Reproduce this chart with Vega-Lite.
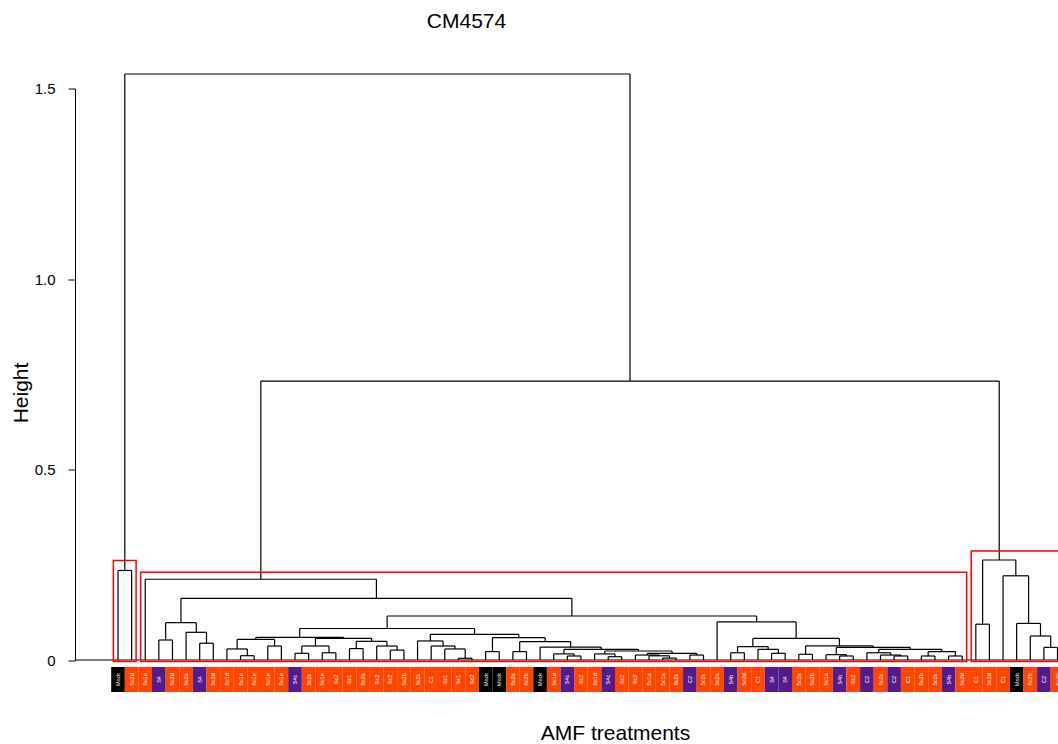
{
  "$schema": "https://vega.github.io/schema/vega-lite/v6.json",
  "width": 983,
  "height": 571.5,
  "autosize": {"type": "none"},
  "padding": {"left": 75, "top": 88.5, "right": 0, "bottom": 84},
  "background": "white",
  "config": {"view": {"stroke": null}},
  "title": {"text": "CM4574", "fontSize": 21, "font": "Liberation Sans", "fontWeight": "normal", "color": "black", "anchor": "middle", "frame": "group", "dx": -100, "offset": 24, "baseline": "alphabetic"},
  "datasets": {
    "merges": [
      {"l": 0, "r": 1, "hl": 0, "hr": 0, "h": 0.235},
      {"l": 3, "r": 4, "hl": 0, "hr": 0, "h": 0.0525},
      {"l": 6, "r": 7, "hl": 0, "hr": 0, "h": 0.044},
      {"l": 5, "r": 6.5, "hl": 0, "hr": 0.044, "h": 0.0727},
      {"l": 3.5, "r": 5.75, "hl": 0.0525, "hr": 0.0727, "h": 0.098},
      {"l": 9, "r": 10, "hl": 0, "hr": 0, "h": 0.0113},
      {"l": 8, "r": 9.5, "hl": 0, "hr": 0.0113, "h": 0.029},
      {"l": 11, "r": 12, "hl": 0, "hr": 0, "h": 0.0367},
      {"l": 8.75, "r": 11.5, "hl": 0.029, "hr": 0.0367, "h": 0.054},
      {"l": 13, "r": 14, "hl": 0, "hr": 0, "h": 0.0175},
      {"l": 15, "r": 16, "hl": 0, "hr": 0, "h": 0.019},
      {"l": 13.5, "r": 15.5, "hl": 0.0175, "hr": 0.019, "h": 0.0367},
      {"l": 17, "r": 18, "hl": 0, "hr": 0, "h": 0.03},
      {"l": 20, "r": 21, "hl": 0, "hr": 0, "h": 0.026},
      {"l": 19, "r": 20.5, "hl": 0, "hr": 0.026, "h": 0.0367},
      {"l": 17.5, "r": 19.75, "hl": 0.03, "hr": 0.0367, "h": 0.049},
      {"l": 14.5, "r": 18.625, "hl": 0.0367, "hr": 0.049, "h": 0.057},
      {"l": 10.125, "r": 16.5625, "hl": 0.054, "hr": 0.057, "h": 0.0596},
      {"l": 25, "r": 26, "hl": 0, "hr": 0, "h": 0.0045},
      {"l": 24, "r": 25.5, "hl": 0, "hr": 0.0045, "h": 0.029},
      {"l": 23, "r": 24.75, "hl": 0, "hr": 0.029, "h": 0.0367},
      {"l": 22, "r": 23.875, "hl": 0, "hr": 0.0367, "h": 0.05},
      {"l": 27, "r": 28, "hl": 0, "hr": 0, "h": 0.022},
      {"l": 29, "r": 30, "hl": 0, "hr": 0, "h": 0.022},
      {"l": 33, "r": 34, "hl": 0, "hr": 0, "h": 0.0105},
      {"l": 32, "r": 33.5, "hl": 0, "hr": 0.0105, "h": 0.016},
      {"l": 36, "r": 37, "hl": 0, "hr": 0, "h": 0.0087},
      {"l": 35, "r": 36.5, "hl": 0, "hr": 0.0087, "h": 0.016},
      {"l": 40, "r": 41, "hl": 0, "hr": 0, "h": 0.005},
      {"l": 39, "r": 40.5, "hl": 0, "hr": 0.005, "h": 0.011},
      {"l": 38, "r": 39.75, "hl": 0, "hr": 0.011, "h": 0.013},
      {"l": 42, "r": 43, "hl": 0, "hr": 0, "h": 0.013},
      {"l": 38.875, "r": 42.5, "hl": 0.013, "hr": 0.013, "h": 0.0175},
      {"l": 35.75, "r": 40.6875, "hl": 0.016, "hr": 0.0175, "h": 0.0236},
      {"l": 32.75, "r": 38.2188, "hl": 0.016, "hr": 0.0236, "h": 0.028},
      {"l": 31, "r": 35.4844, "hl": 0, "hr": 0.028, "h": 0.034},
      {"l": 29.5, "r": 33.2422, "hl": 0.022, "hr": 0.034, "h": 0.048},
      {"l": 27.5, "r": 31.3711, "hl": 0.022, "hr": 0.048, "h": 0.0585},
      {"l": 22.9375, "r": 29.4355, "hl": 0.05, "hr": 0.0585, "h": 0.0675},
      {"l": 13.3438, "r": 26.1865, "hl": 0.0596, "hr": 0.0675, "h": 0.0827},
      {"l": 45, "r": 46, "hl": 0, "hr": 0, "h": 0.019},
      {"l": 48, "r": 49, "hl": 0, "hr": 0, "h": 0.0175},
      {"l": 47, "r": 48.5, "hl": 0, "hr": 0.0175, "h": 0.028},
      {"l": 45.5, "r": 47.75, "hl": 0.019, "hr": 0.028, "h": 0.035},
      {"l": 50, "r": 51, "hl": 0, "hr": 0, "h": 0.015},
      {"l": 53, "r": 54, "hl": 0, "hr": 0, "h": 0.0105},
      {"l": 52, "r": 53.5, "hl": 0, "hr": 0.0105, "h": 0.014},
      {"l": 57, "r": 58, "hl": 0, "hr": 0, "h": 0.0105},
      {"l": 56, "r": 57.5, "hl": 0, "hr": 0.0105, "h": 0.013},
      {"l": 55, "r": 56.75, "hl": 0, "hr": 0.013, "h": 0.019},
      {"l": 59, "r": 60, "hl": 0, "hr": 0, "h": 0.0105},
      {"l": 61, "r": 62, "hl": 0, "hr": 0, "h": 0.0105},
      {"l": 59.5, "r": 61.5, "hl": 0.0105, "hr": 0.0105, "h": 0.022},
      {"l": 55.875, "r": 60.5, "hl": 0.019, "hr": 0.022, "h": 0.028},
      {"l": 52.75, "r": 58.1875, "hl": 0.014, "hr": 0.028, "h": 0.033},
      {"l": 50.5, "r": 55.4688, "hl": 0.015, "hr": 0.033, "h": 0.037},
      {"l": 46.625, "r": 52.9844, "hl": 0.035, "hr": 0.037, "h": 0.0565},
      {"l": 44, "r": 49.8047, "hl": 0, "hr": 0.0565, "h": 0.1},
      {"l": 19.7651, "r": 46.9023, "hl": 0.0827, "hr": 0.1, "h": 0.1155},
      {"l": 4.625, "r": 33.3337, "hl": 0.098, "hr": 0.1155, "h": 0.162},
      {"l": 2, "r": 18.9794, "hl": 0, "hr": 0.162, "h": 0.212},
      {"l": 63, "r": 64, "hl": 0, "hr": 0, "h": 0.094},
      {"l": 68, "r": 69, "hl": 0, "hr": 0, "h": 0.033},
      {"l": 67, "r": 68.5, "hl": 0, "hr": 0.033, "h": 0.063},
      {"l": 66, "r": 67.75, "hl": 0, "hr": 0.063, "h": 0.096},
      {"l": 65, "r": 66.875, "hl": 0, "hr": 0.096, "h": 0.221},
      {"l": 63.5, "r": 65.9375, "hl": 0.094, "hr": 0.221, "h": 0.2625},
      {"l": 10.4897, "r": 64.7188, "hl": 0.212, "hr": 0.2625, "h": 0.732},
      {"l": 0.5, "r": 37.6042, "hl": 0.235, "hr": 0.732, "h": 1.538}
    ],
    "boxes": [
      {"x0": -0.34, "x1": 1.33, "top": 0.261},
      {"x0": 1.66, "x1": 62.33, "top": 0.23},
      {"x0": 62.66, "x1": 69.33, "top": 0.286}
    ],
    "leaves": [
      {"i": 0, "label": "Mock"}, {"i": 1, "label": "Sc2d"}, {"i": 2, "label": "Sc1e"}, {"i": 3, "label": "S4"},
      {"i": 4, "label": "Sc2d"}, {"i": 5, "label": "Sc2a"}, {"i": 6, "label": "S4"}, {"i": 7, "label": "Sc2d"},
      {"i": 8, "label": "Sc1d"}, {"i": 9, "label": "Sc1e"}, {"i": 10, "label": "Sc1e"}, {"i": 11, "label": "Sc1e"},
      {"i": 12, "label": "Sc1e"}, {"i": 13, "label": "S4c"}, {"i": 14, "label": "Sc2c"}, {"i": 15, "label": "Sc1e"},
      {"i": 16, "label": "Sc2"}, {"i": 17, "label": "Sc1"}, {"i": 18, "label": "Sc2a"}, {"i": 19, "label": "Sc2"},
      {"i": 20, "label": "Sc2"}, {"i": 21, "label": "Sc2b"}, {"i": 22, "label": "Sc2c"}, {"i": 23, "label": "C1"},
      {"i": 24, "label": "Sc1"}, {"i": 25, "label": "Sc1"}, {"i": 26, "label": "Sc2"}, {"i": 27, "label": "Mock"},
      {"i": 28, "label": "Mock"}, {"i": 29, "label": "Sc2a"}, {"i": 30, "label": "Sc2b"}, {"i": 31, "label": "Mock"},
      {"i": 32, "label": "Sc1d"}, {"i": 33, "label": "S4c"}, {"i": 34, "label": "Sc2"}, {"i": 35, "label": "Sc1d"},
      {"i": 36, "label": "S4c"}, {"i": 37, "label": "Sc2"}, {"i": 38, "label": "Sc2"}, {"i": 39, "label": "Sc1a"},
      {"i": 40, "label": "Sc1a"}, {"i": 41, "label": "Sc2c"}, {"i": 42, "label": "C2"}, {"i": 43, "label": "Sc2c"},
      {"i": 44, "label": "Sc2a"}, {"i": 45, "label": "S4b"}, {"i": 46, "label": "Sc2d"}, {"i": 47, "label": "C1"},
      {"i": 48, "label": "S4"}, {"i": 49, "label": "S4"}, {"i": 50, "label": "Sc2a"}, {"i": 51, "label": "Sc2b"},
      {"i": 52, "label": "Sc1a"}, {"i": 53, "label": "S4b"}, {"i": 54, "label": "Sc2"}, {"i": 55, "label": "C2"},
      {"i": 56, "label": "Sc2c"}, {"i": 57, "label": "C2"}, {"i": 58, "label": "C1"}, {"i": 59, "label": "Sc2b"},
      {"i": 60, "label": "Sc2c"}, {"i": 61, "label": "S4b"}, {"i": 62, "label": "Sc2d"}, {"i": 63, "label": "C1"},
      {"i": 64, "label": "Sc2d"}, {"i": 65, "label": "C1"}, {"i": 66, "label": "Mock"}, {"i": 67, "label": "Sc2b"},
      {"i": 68, "label": "C2"}, {"i": 69, "label": "Sc2d"}
    ]
  },
  "layer": [
    {
      "data": {"name": "merges"},
      "mark": {"type": "rule", "color": "black", "strokeWidth": 1.2},
      "encoding": {
        "x": {"field": "l", "type": "quantitative", "title": "AMF treatments",
          "scale": {"domain": [-3.158, 69.036], "nice": false, "zero": false},
          "axis": {"title": "AMF treatments", "domain": false, "ticks": false, "labels": false, "grid": false,
            "titleFont": "Liberation Sans", "titleFontSize": 21, "titleFontWeight": "normal", "titleColor": "black",
            "titleX": 540, "titleY": 79, "titleBaseline": "alphabetic", "titleAlign": "center"}},
        "x2": {"field": "r"},
        "y": {"field": "h", "type": "quantitative", "title": "Height",
          "scale": {"domain": [0, 1.5], "nice": false, "zero": false},
          "axis": {"title": "Height", "values": [0, 0.5, 1, 1.5],
            "labelExpr": "datum.value == 0 ? '0' : format(datum.value, '.1f')",
            "grid": false, "domainColor": "black", "domainWidth": 1, "tickColor": "black", "tickSize": 7, "tickWidth": 1,
            "labelFont": "Liberation Sans", "labelFontSize": 15, "labelColor": "black", "labelPadding": 13,
            "labelFlush": false, "labelOverlap": false,
            "titleFont": "Liberation Sans", "titleFontSize": 21, "titleFontWeight": "normal", "titleColor": "black",
            "titleX": -48, "titleY": 304, "titleAngle": -90, "titleBaseline": "alphabetic", "titleAlign": "center"}}
      }
    },
    {
      "data": {"name": "merges"},
      "mark": {"type": "rule", "color": "black", "strokeWidth": 1.2},
      "encoding": {
        "x": {"field": "l", "type": "quantitative", "title": "AMF treatments"},
        "y": {"field": "hl", "type": "quantitative", "title": "Height"},
        "y2": {"field": "h"}
      }
    },
    {
      "data": {"name": "merges"},
      "mark": {"type": "rule", "color": "black", "strokeWidth": 1.2},
      "encoding": {
        "x": {"field": "r", "type": "quantitative", "title": "AMF treatments"},
        "y": {"field": "hr", "type": "quantitative", "title": "Height"},
        "y2": {"field": "h"}
      }
    },
    {
      "data": {"values": [{"level": 0}]},
      "mark": {"type": "rule", "color": "black", "strokeWidth": 1.2},
      "encoding": {
        "y": {"field": "level", "type": "quantitative", "title": "Height"}
      }
    },
    {
      "data": {"name": "boxes"},
      "mark": {"type": "rect", "filled": false, "stroke": "#FF0000", "strokeWidth": 1.5},
      "encoding": {
        "x": {"field": "x0", "type": "quantitative", "title": "AMF treatments"},
        "x2": {"field": "x1"},
        "y": {"field": "top", "type": "quantitative", "title": "Height"},
        "y2": {"datum": -0.004}
      }
    },
    {
      "data": {"name": "leaves"},
      "mark": {"type": "rect", "xOffset": -6.81, "x2Offset": 6.81},
      "encoding": {
        "x": {"field": "i", "type": "quantitative", "title": "AMF treatments"},
        "x2": {"field": "i"},
        "y": {"datum": -0.0184, "type": "quantitative", "title": "Height"},
        "y2": {"datum": -0.084},
        "color": {"field": "label", "type": "nominal", "legend": null,
          "scale": {"domain": ["Mock", "Sc1", "Sc1a", "Sc1d", "Sc1e", "Sc2", "Sc2a", "Sc2b", "Sc2c", "Sc2d", "C1", "S4", "S4b", "S4c", "C2"],
            "range": ["#000000", "#FF4500", "#FF4500", "#FF4500", "#FF4500", "#FF4500", "#FF4500", "#FF4500", "#FF4500", "#FF4500", "#FF4500", "#551A8B", "#551A8B", "#551A8B", "#551A8B"]}}
      }
    },
    {
      "data": {"name": "leaves"},
      "mark": {"type": "text", "angle": 270, "fontSize": 5.5, "font": "Liberation Sans", "color": "white", "align": "center", "baseline": "middle"},
      "encoding": {
        "x": {"field": "i", "type": "quantitative", "title": "AMF treatments"},
        "y": {"datum": -0.0512, "type": "quantitative", "title": "Height"},
        "text": {"field": "label"}
      }
    }
  ]
}
